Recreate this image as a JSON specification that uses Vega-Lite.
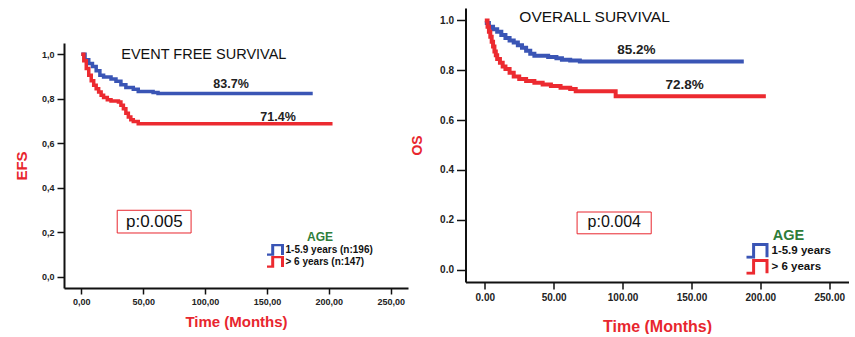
{
  "$schema": "https://vega.github.io/schema/vega-lite/v6.json",
  "padding": {"left": 14, "top": 8, "right": 0, "bottom": 0},
  "spacing": 2.5,
  "background": "white",
  "config": {
    "view": {"stroke": null},
    "font": "Liberation Sans",
    "axis": {"grid": false, "domainColor": "#111", "domainWidth": 2, "tickColor": "#111", "tickWidth": 1.5, "labelColor": "#222", "labelFontWeight": "bold", "titleColor": "#e8262e", "titleFontWeight": "bold"},
    "legend": {"titleColor": "#2e7d3a", "titleFontWeight": "bold", "titleAnchor": "middle", "labelFontWeight": "bold", "labelColor": "#111", "symbolStrokeWidth": 3, "rowPadding": 0}
  },
  "datasets": {
    "efs": [
      {"t": 0, "s": 1.0, "g": "1-5.9 years"}, {"t": 3, "s": 0.975, "g": "1-5.9 years"}, {"t": 6, "s": 0.958, "g": "1-5.9 years"}, {"t": 9, "s": 0.945, "g": "1-5.9 years"}, {"t": 12, "s": 0.925, "g": "1-5.9 years"}, {"t": 15, "s": 0.905, "g": "1-5.9 years"}, {"t": 18, "s": 0.897, "g": "1-5.9 years"}, {"t": 24, "s": 0.888, "g": "1-5.9 years"}, {"t": 28, "s": 0.878, "g": "1-5.9 years"}, {"t": 32, "s": 0.862, "g": "1-5.9 years"}, {"t": 36, "s": 0.85, "g": "1-5.9 years"}, {"t": 42, "s": 0.842, "g": "1-5.9 years"}, {"t": 46, "s": 0.832, "g": "1-5.9 years"}, {"t": 58, "s": 0.828, "g": "1-5.9 years"}, {"t": 62, "s": 0.823, "g": "1-5.9 years"}, {"t": 187, "s": 0.823, "g": "1-5.9 years"},
      {"t": 0, "s": 1.0, "g": "> 6 years"}, {"t": 2, "s": 0.97, "g": "> 6 years"}, {"t": 4, "s": 0.935, "g": "> 6 years"}, {"t": 6, "s": 0.905, "g": "> 6 years"}, {"t": 8, "s": 0.88, "g": "> 6 years"}, {"t": 10, "s": 0.86, "g": "> 6 years"}, {"t": 12, "s": 0.845, "g": "> 6 years"}, {"t": 14, "s": 0.83, "g": "> 6 years"}, {"t": 16, "s": 0.815, "g": "> 6 years"}, {"t": 18, "s": 0.805, "g": "> 6 years"}, {"t": 21, "s": 0.795, "g": "> 6 years"}, {"t": 24, "s": 0.79, "g": "> 6 years"}, {"t": 30, "s": 0.785, "g": "> 6 years"}, {"t": 32, "s": 0.77, "g": "> 6 years"}, {"t": 34, "s": 0.755, "g": "> 6 years"}, {"t": 36, "s": 0.735, "g": "> 6 years"}, {"t": 38, "s": 0.718, "g": "> 6 years"}, {"t": 40, "s": 0.705, "g": "> 6 years"}, {"t": 42, "s": 0.697, "g": "> 6 years"}, {"t": 46, "s": 0.688, "g": "> 6 years"}, {"t": 203, "s": 0.688, "g": "> 6 years"}
    ],
    "os": [
      {"t": 0, "s": 0.99, "g": "1-5.9 years"}, {"t": 3, "s": 0.975, "g": "1-5.9 years"}, {"t": 6, "s": 0.965, "g": "1-5.9 years"}, {"t": 9, "s": 0.955, "g": "1-5.9 years"}, {"t": 12, "s": 0.942, "g": "1-5.9 years"}, {"t": 15, "s": 0.93, "g": "1-5.9 years"}, {"t": 18, "s": 0.92, "g": "1-5.9 years"}, {"t": 21, "s": 0.912, "g": "1-5.9 years"}, {"t": 24, "s": 0.9, "g": "1-5.9 years"}, {"t": 27, "s": 0.89, "g": "1-5.9 years"}, {"t": 30, "s": 0.878, "g": "1-5.9 years"}, {"t": 33, "s": 0.866, "g": "1-5.9 years"}, {"t": 36, "s": 0.858, "g": "1-5.9 years"}, {"t": 46, "s": 0.853, "g": "1-5.9 years"}, {"t": 52, "s": 0.848, "g": "1-5.9 years"}, {"t": 56, "s": 0.842, "g": "1-5.9 years"}, {"t": 62, "s": 0.839, "g": "1-5.9 years"}, {"t": 69, "s": 0.835, "g": "1-5.9 years"}, {"t": 188, "s": 0.835, "g": "1-5.9 years"},
      {"t": 0, "s": 1.0, "g": "> 6 years"}, {"t": 2, "s": 0.975, "g": "> 6 years"}, {"t": 3, "s": 0.955, "g": "> 6 years"}, {"t": 4, "s": 0.935, "g": "> 6 years"}, {"t": 5, "s": 0.915, "g": "> 6 years"}, {"t": 6, "s": 0.895, "g": "> 6 years"}, {"t": 7, "s": 0.875, "g": "> 6 years"}, {"t": 8, "s": 0.86, "g": "> 6 years"}, {"t": 9, "s": 0.845, "g": "> 6 years"}, {"t": 11, "s": 0.83, "g": "> 6 years"}, {"t": 13, "s": 0.815, "g": "> 6 years"}, {"t": 15, "s": 0.805, "g": "> 6 years"}, {"t": 18, "s": 0.79, "g": "> 6 years"}, {"t": 21, "s": 0.775, "g": "> 6 years"}, {"t": 25, "s": 0.765, "g": "> 6 years"}, {"t": 30, "s": 0.757, "g": "> 6 years"}, {"t": 36, "s": 0.75, "g": "> 6 years"}, {"t": 42, "s": 0.743, "g": "> 6 years"}, {"t": 48, "s": 0.737, "g": "> 6 years"}, {"t": 55, "s": 0.73, "g": "> 6 years"}, {"t": 62, "s": 0.725, "g": "> 6 years"}, {"t": 66, "s": 0.716, "g": "> 6 years"}, {"t": 95, "s": 0.696, "g": "> 6 years"}, {"t": 204, "s": 0.696, "g": "> 6 years"}
    ]
  },
  "hconcat": [
    {
      "vconcat": [
        {
          "width": 344,
          "height": 30,
          "data": {"values": [{"label": ""}]},
          "mark": {"type": "text"},
          "encoding": {"text": {"field": "label"}}
        },
        {
          "width": 344,
          "height": 245,
          "layer": [
            {
              "data": {"name": "efs"},
              "mark": {"type": "line", "interpolate": "step-after", "strokeWidth": 3.5},
              "encoding": {
                "x": {"field": "t", "type": "quantitative", "scale": {"domain": [-14, 264], "nice": false, "zero": false}, "axis": {"values": [0, 50, 100, 150, 200, 250], "labelExpr": "replace(format(datum.value, '.2f'), '.', ',')", "title": "Time (Months)", "titleFontSize": 15, "titlePadding": 8, "labelFontSize": 9, "tickSize": 6, "labelPadding": 3}},
                "y": {"field": "s", "type": "quantitative", "scale": {"domain": [-0.05, 1.05], "nice": false, "zero": false}, "axis": {"values": [0, 0.2, 0.4, 0.6, 0.8, 1.0], "labelExpr": "replace(format(datum.value, '.1f'), '.', ',')", "title": "EFS", "titleFontSize": 15, "titlePadding": 11.5, "labelFontSize": 9, "tickSize": 7, "labelPadding": 3}},
                "color": {"field": "g", "type": "nominal", "scale": {"domain": ["1-5.9 years", "> 6 years"], "range": ["#3a55b5", "#ec2a30"]}, "legend": {"title": "AGE", "orient": "none", "legendX": 203, "legendY": 224, "titleFontSize": 12, "titlePadding": 0, "labelFontSize": 10, "symbolType": "M-1.33,0.85H-0.3V-0.85H1.33V0.85", "symbolSize": 144, "clipHeight": 11.7, "labelOffset": 3.5, "labelExpr": "datum.label == '1-5.9 years' ? '1-5.9 years (n:196)' : '> 6 years (n:147)'"}}
              }
            },
            {
              "data": {"values": [{"x1": 29, "x2": 88.7, "y1": 0.197, "y2": 0.299}]},
              "mark": {"type": "rect", "fill": "white", "stroke": "#e8262e", "strokeWidth": 1},
              "encoding": {"x": {"field": "x1", "type": "quantitative"}, "x2": {"field": "x2"}, "y": {"field": "y1", "type": "quantitative"}, "y2": {"field": "y2"}}
            },
            {
              "data": {"values": [{"x": 59, "y": 0.248, "label": "p:0.005"}]},
              "mark": {"type": "text", "fontSize": 17, "color": "#111", "align": "center", "baseline": "middle"},
              "encoding": {"x": {"field": "x", "type": "quantitative"}, "y": {"field": "y", "type": "quantitative"}, "text": {"field": "label"}}
            },
            {
              "data": {"values": [{"x": 99, "y": 0.997, "label": "EVENT FREE SURVIVAL"}]},
              "mark": {"type": "text", "fontSize": 14.5, "color": "#111", "align": "center", "baseline": "middle"},
              "encoding": {"x": {"field": "x", "type": "quantitative"}, "y": {"field": "y", "type": "quantitative"}, "text": {"field": "label"}}
            },
            {
              "data": {"values": [{"x": 121, "y": 0.867, "label": "83.7%"}, {"x": 159, "y": 0.717, "label": "71.4%"}]},
              "mark": {"type": "text", "fontSize": 12.5, "fontWeight": "bold", "color": "#222", "align": "center", "baseline": "middle"},
              "encoding": {"x": {"field": "x", "type": "quantitative"}, "y": {"field": "y", "type": "quantitative"}, "text": {"field": "label"}}
            }
          ]
        }
      ],
      "spacing": 5
    },
    {
      "width": 383,
      "height": 274,
      "layer": [
        {
          "data": {"name": "os"},
          "mark": {"type": "line", "interpolate": "step-after", "strokeWidth": 4},
          "encoding": {
            "x": {"field": "t", "type": "quantitative", "scale": {"domain": [-14, 264], "nice": false, "zero": false}, "axis": {"values": [0, 50, 100, 150, 200, 250], "format": ".2f", "title": "Time (Months)", "titleFontSize": 16, "titlePadding": 16, "labelFontSize": 10, "tickSize": 7, "labelPadding": 3}},
            "y": {"field": "s", "type": "quantitative", "scale": {"domain": [-0.05, 1.05], "nice": false, "zero": false}, "axis": {"values": [0, 0.2, 0.4, 0.6, 0.8, 1.0], "format": ".1f", "title": "OS", "titleFontSize": 14, "titlePadding": 15, "labelFontSize": 10, "tickSize": 9, "labelPadding": 3}},
            "color": {"field": "g", "type": "nominal", "scale": {"domain": ["1-5.9 years", "> 6 years"], "range": ["#3a55b5", "#ec2a30"]}, "legend": {"title": "AGE", "orient": "none", "legendX": 281, "legendY": 220.5, "titleFontSize": 14.5, "titlePadding": 0, "labelFontSize": 11.5, "symbolType": "M-1.375,0.8H-0.3V-0.8H1.375V0.8", "symbolSize": 256, "clipHeight": 15.7, "labelOffset": 6}}
          }
        },
        {
          "data": {"values": [{"x1": 67, "x2": 120.8, "y1": 0.1435, "y2": 0.231}]},
          "mark": {"type": "rect", "fill": "white", "stroke": "#e8262e", "strokeWidth": 1},
          "encoding": {"x": {"field": "x1", "type": "quantitative"}, "x2": {"field": "x2"}, "y": {"field": "y1", "type": "quantitative"}, "y2": {"field": "y2"}}
        },
        {
          "data": {"values": [{"x": 94, "y": 0.189, "label": "p:0.004"}]},
          "mark": {"type": "text", "fontSize": 16, "color": "#111", "align": "center", "baseline": "middle"},
          "encoding": {"x": {"field": "x", "type": "quantitative"}, "y": {"field": "y", "type": "quantitative"}, "text": {"field": "label"}}
        },
        {
          "data": {"values": [{"x": 79.7, "y": 1.015, "label": "OVERALL SURVIVAL"}]},
          "mark": {"type": "text", "fontSize": 15.5, "color": "#111", "align": "center", "baseline": "middle"},
          "encoding": {"x": {"field": "x", "type": "quantitative"}, "y": {"field": "y", "type": "quantitative"}, "text": {"field": "label"}}
        },
        {
          "data": {"values": [{"x": 110, "y": 0.882, "label": "85.2%"}, {"x": 145, "y": 0.74, "label": "72.8%"}]},
          "mark": {"type": "text", "fontSize": 13.5, "fontWeight": "bold", "color": "#222", "align": "center", "baseline": "middle"},
          "encoding": {"x": {"field": "x", "type": "quantitative"}, "y": {"field": "y", "type": "quantitative"}, "text": {"field": "label"}}
        }
      ]
    }
  ],
  "resolve": {"scale": {"color": "independent"}, "legend": {"color": "independent"}}
}
